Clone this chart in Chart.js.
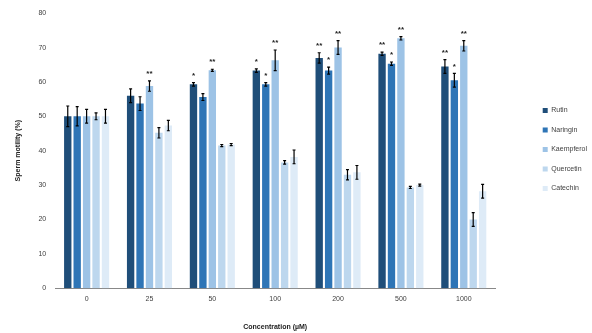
<!DOCTYPE html>
<html>
<head>
<meta charset="utf-8">
<script src="https://cdn.jsdelivr.net/npm/chart.js@4"></script>
<style>
    html, body { margin: 0; padding: 0; background: #fff; }
    #wrap { width: 592px; height: 333px; }
</style>
</head>
<body>
<div id="wrap"><canvas id="graficoMotilidad"></canvas></div>
<script>
const concentraciones = ['0', '25', '50', '100', '200', '500', '1000'];

const rutin      = [50, 56, 59.3, 63.3, 67, 68.2, 64.5];
const naringin   = [50, 53.7, 55.6, 59.3, 63.3, 65.3, 60.5];
const kaempferol = [50, 58.8, 63.4, 66.3, 70, 72.7, 70.5];
const quercetin  = [50, 45.2, 41.5, 36.6, 33, 29.3, 20];
const catechin   = [50, 47.3, 41.8, 38.2, 33.7, 30, 28.2];

const errRutin      = [3, 2, 0.5, 0.5, 1.5, 0.5, 2];
const errNaringin   = [2.8, 2, 1, 0.5, 1, 0.5, 2];
const errKaempferol = [2, 1.5, 0.3, 3, 2, 0.5, 1.5];
const errQuercetin  = [1, 1.5, 0.3, 0.5, 1.5, 0.3, 2];
const errCatechin   = [2, 1.5, 0.3, 2, 2, 0.3, 2];

const sigRutin      = ['', '', '*', '*', '**', '**', '**'];
const sigNaringin   = ['', '', '', '*', '*', '*', '*'];
const sigKaempferol = ['', '**', '**', '**', '**', '**', '**'];
const sigQuercetin  = ['', '', '', '', '', '', ''];
const sigCatechin   = ['', '', '', '', '', '', ''];

const yTicks = [0, 10, 20, 30, 40, 50, 60, 70, 80];

const fuente = "'Liberation Sans', Arial, sans-serif";

// barras de error y asteriscos, dibujados con las escalas del grafico
const pluginErrores = {
    id: 'errores',
    afterDatasetsDraw(chart) {
        const ctx = chart.ctx;
        const y = chart.scales.y;
        ctx.save();
        chart.data.datasets.forEach((ds, i) => {
            const meta = chart.getDatasetMeta(i);
            meta.data.forEach((bar, j) => {
                const v = ds.data[j];
                const e = ds.errores[j];
                const yTop = y.getPixelForValue(v + e);
                const yBot = y.getPixelForValue(v - e);
                ctx.strokeStyle = '#000';
                ctx.lineWidth = 1.2;
                ctx.beginPath();
                ctx.moveTo(bar.x, yTop);
                ctx.lineTo(bar.x, yBot);
                ctx.moveTo(bar.x - 1.5, yTop);
                ctx.lineTo(bar.x + 1.5, yTop);
                ctx.moveTo(bar.x - 1.5, yBot);
                ctx.lineTo(bar.x + 1.5, yBot);
                ctx.stroke();
                const s = ds.sig[j];
                if (s) {
                    ctx.fillStyle = '#222';
                    ctx.font = 'bold 8px ' + fuente;
                    ctx.textAlign = 'center';
                    ctx.textBaseline = 'bottom';
                    ctx.fillText(s, bar.x, yTop - 3);
                }
            });
        });
        ctx.restore();
    }
};

// deja un hueco entre el area del grafico y la leyenda
const pluginHuecoLeyenda = {
    id: 'huecoLeyenda',
    beforeLayout(chart) {
        const lg = chart.legend;
        if (!lg || lg._parcheado) return;
        lg._parcheado = true;
        const fitOriginal = lg.fit.bind(lg);
        lg.fit = function () {
            fitOriginal();
            this.width += 30;
        };
        const drawOriginal = lg.draw.bind(lg);
        lg.draw = function () {
            this.ctx.save();
            this.ctx.translate(35, -20);
            drawOriginal();
            this.ctx.restore();
        };
    }
};

const dataMotilidad = {
    labels: concentraciones,
    datasets: [
        { label: 'Rutin', data: rutin, errores: errRutin, sig: sigRutin, backgroundColor: '#1F4E79' },
        { label: 'Naringin', data: naringin, errores: errNaringin, sig: sigNaringin, backgroundColor: '#2E75B6' },
        { label: 'Kaempferol', data: kaempferol, errores: errKaempferol, sig: sigKaempferol, backgroundColor: '#9DC3E6' },
        { label: 'Quercetin', data: quercetin, errores: errQuercetin, sig: sigQuercetin, backgroundColor: '#BDD7EE' },
        { label: 'Catechin', data: catechin, errores: errCatechin, sig: sigCatechin, backgroundColor: '#DEEBF7' }
    ]
};

const configMotilidad = {
    type: 'bar',
    data: dataMotilidad,
    options: {
        responsive: true,
        maintainAspectRatio: false,
        animation: false,
        datasets: {
            bar: { categoryPercentage: 0.75, barPercentage: 0.78 }
        },
        layout: { padding: { top: 6, right: 0, bottom: 0, left: 14 } },
        plugins: {
            legend: {
                position: 'right',
                labels: {
                    boxWidth: 5,
                    boxHeight: 5,
                    padding: 12.5,
                    color: '#404040',
                    font: { family: fuente, size: 7 }
                }
            },
            tooltip: { enabled: false }
        },
        scales: {
            x: {
                grid: { display: false, drawTicks: false },
                border: { color: '#888', width: 1 },
                ticks: { color: '#404040', font: { family: fuente, size: 7 }, padding: 7 },
                title: {
                    display: true,
                    text: 'Concentration (µM)',
                    color: '#222',
                    font: { family: fuente, size: 7, weight: 'bold' },
                    padding: { top: 12, bottom: 2 }
                }
            },
            y: {
                min: 0,
                max: 80,
                afterBuildTicks(axis) {
                    axis.ticks = yTicks.map(v => ({ value: v }));
                },
                grid: { display: false, drawTicks: false },
                border: { display: false },
                ticks: { color: '#404040', font: { family: fuente, size: 7 }, padding: 9 },
                title: {
                    display: true,
                    text: 'Sperm motility (%)',
                    color: '#222',
                    font: { family: fuente, size: 7, weight: 'bold' },
                    padding: { top: 0, bottom: 7 }
                }
            }
        }
    },
    plugins: [pluginErrores, pluginHuecoLeyenda]
};

new Chart(document.getElementById('graficoMotilidad'), configMotilidad);
</script>
</body>
</html>
